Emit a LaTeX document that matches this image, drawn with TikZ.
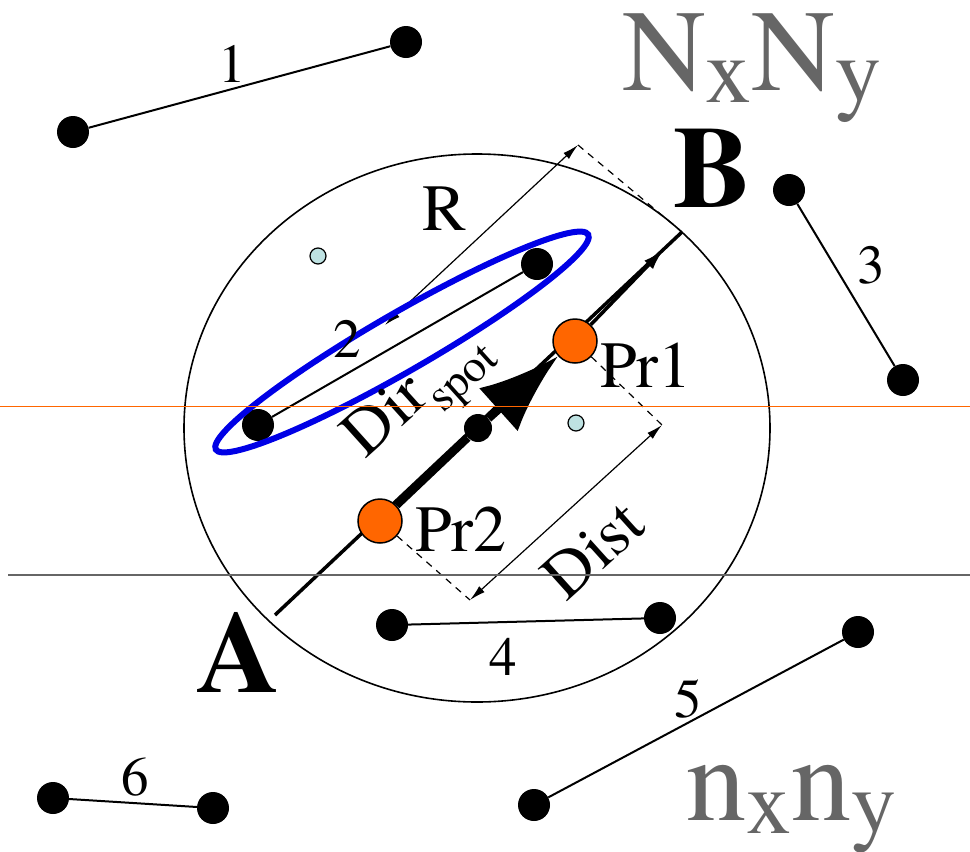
\documentclass[tikz,border=0pt]{standalone}
\usepackage{fontspec}
\setmainfont{TeX Gyre Termes}
\usetikzlibrary{arrows.meta,positioning,backgrounds,shapes.geometric}
\definecolor{probeorange}{RGB}{255,102,0}
\definecolor{seedblue}{RGB}{190,226,226}
\definecolor{spotblue}{RGB}{0,0,230}

\begin{document}
\begin{tikzpicture}[
    x=1pt, y=-1pt,
    dot/.style={circle, fill=black, inner sep=0pt, minimum size=32pt},
    seg/.style={line width=2pt},
    num/.style={anchor=base west, inner sep=0pt, font=\fontsize{55}{60}\selectfont},
    lbl/.style={anchor=base west, inner sep=0pt, font=\fontsize{66}{70}\selectfont},
    corner/.style={anchor=base west, inner sep=0pt, font=\bfseries\fontsize{116}{120}\selectfont},
    gridlbl/.style={anchor=base west, inner sep=0pt, text=black!60, font=\fontsize{116}{120}\selectfont},
    probe/.style={circle, draw=black, line width=1.5pt, fill=probeorange, inner sep=0pt, minimum size=44pt},
    seed/.style={circle, draw=black, line width=1.2pt, fill=seedblue, inner sep=0pt, minimum size=16pt},
    dimline/.style={line width=1.2pt, {Latex[length=16pt,width=8pt]}-{Latex[length=16pt,width=8pt]}},
    guide/.style={line width=1.2pt, dash pattern=on 7pt off 6pt}
]
\useasboundingbox (0,0) rectangle (970,852);
\node[draw, ellipse, line width=1.6pt, minimum width=586pt, minimum height=548pt] (zone) at (477,428) {};
\coordinate (ea) at (275,615); \coordinate (eb) at (682,232); \coordinate (bh) at (664,249);
\coordinate (r1) at (385,325); \coordinate (r2) at (578,145);
\coordinate (d1) at (470,600); \coordinate (d2) at (662,425);
\node[dot] (s1a) at (73,132) {}; \node[dot] (s1b) at (406,42) {};
\node[dot] (s2a) at (258,425) {}; \node[dot] (s2b) at (537,264) {};
\node[dot] (s3a) at (789,190) {}; \node[dot] (s3b) at (903,380) {};
\node[dot] (s4a) at (392,625) {}; \node[dot] (s4b) at (660,618) {};
\node[dot] (s5a) at (858,632) {}; \node[dot] (s5b) at (534,805) {};
\node[dot] (s6a) at (53,798) {}; \node[dot] (s6b) at (213,808) {};
\node[dot, minimum size=28pt] (ctr) at (478,428) {};
\node[draw=spotblue, line width=6pt, ellipse, minimum width=430pt, minimum height=58pt, rotate=30] (spot) at (402,342) {};
\node[seed] (q1) at (318,256) {}; \node[seed] (q2) at (576,423) {};
\node[probe] (pr1) at (575,341) {}; \node[probe] (pr2) at (380,521) {};
\begin{scope}[on background layer]
\draw[seg] (s1a) -- (s1b); \draw[seg] (s2a) -- (s2b); \draw[seg] (s3a) -- (s3b);
\draw[seg] (s4a) -- (s4b); \draw[seg] (s5a) -- (s5b); \draw[seg] (s6a) -- (s6b);
\draw[line width=3.5pt] (ea) -- (eb);
\draw[line width=3.5pt, -{Latex[length=22pt,width=12pt]}] (pr1) -- (bh);
\draw[line width=8pt] (pr2) -- (ctr);
\draw[line width=8pt, -{Latex[length=80pt,width=58pt]}] (ctr) -- (pr1);
\draw[dimline] (r1) -- (r2); \draw[guide] (r2) -- (eb);
\draw[guide] (pr2) -- (d1); \draw[guide] (pr1) -- (d2);
\draw[dimline] (d1) -- (d2);
\end{scope}
\node[num] (n1) at (218,82) {1}; \node[num] (n2) at (333,357) {2};
\node[num] (n3) at (857,283) {3}; \node[num] (n4) at (489,675) {4};
\node[num] (n5) at (674,717) {5}; \node[num] (n6) at (121,795) {6};
\node[lbl] (rl) at (422,230) {R};
\node[lbl] (p1l) at (600,387) {Pr1}; \node[lbl] (p2l) at (415,551) {Pr2};
\node[rotate=42, inner sep=0pt, font=\fontsize{66}{70}\selectfont] (dirl) at (422,398) {Dir\textsubscript{spot}};
\node[rotate=42, inner sep=0pt, font=\fontsize{66}{70}\selectfont] (distl) at (593,550) {Dist};
\node[corner] (al) at (196,692) {A}; \node[corner] (bl) at (673,207) {B};
\node[gridlbl] (big) at (622,90) {N\raisebox{-12pt}{\fontsize{92}{96}\selectfont x}N\raisebox{-12pt}{\fontsize{92}{96}\selectfont y}};
\node[gridlbl, font=\fontsize{120}{124}\selectfont] (small) at (686,820) {n\raisebox{-13pt}{\fontsize{90}{94}\selectfont x}n\raisebox{-13pt}{\fontsize{90}{94}\selectfont y}};
\coordinate (h1) at (0,406); \coordinate (h2) at (970,406);
\coordinate (g1) at (8,575); \coordinate (g2) at (970,575);
\draw[probeorange, line width=1pt] (h1) -- (h2);
\draw[black!60, line width=1.5pt] (g1) -- (g2);
\end{tikzpicture}
\end{document}
